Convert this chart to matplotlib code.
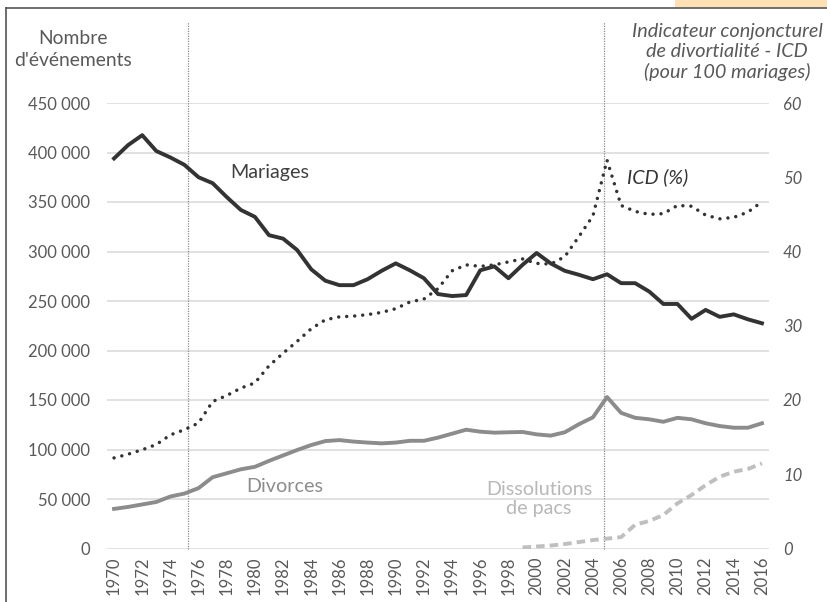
import matplotlib
matplotlib.use("Agg")
import matplotlib.pyplot as plt
from matplotlib.lines import Line2D
from matplotlib.patches import Rectangle
from matplotlib.ticker import FuncFormatter, MultipleLocator

plt.rcParams['font.family'] = ['Lato', 'DejaVu Sans']

# Data
years = list(range(1970, 2017))

mariages = [394000, 407500, 417500, 401500, 395000, 387500, 375000, 369000, 355000, 342000,
            335000, 316500, 313000, 301500, 282000, 270500, 266000, 266000, 272000, 280500,
            288000, 281000, 273000, 257000, 255000, 256000, 281000, 285000, 273000, 286500,
            298500, 288000, 280500, 276500, 272000, 277000, 268000, 268000, 259500, 247000,
            247000, 232000, 241000, 234000, 236500, 231500, 227500]

divorces = [40000, 42000, 44500, 47000, 52500, 55500, 61000, 72000, 76000, 80000,
            82500, 88500, 94000, 99500, 104500, 108500, 109500, 108000, 107000, 106200,
            107000, 108800, 108800, 112000, 116000, 120000, 118000, 117000, 117400, 117700,
            115300, 114000, 117400, 125500, 132500, 153000, 137000, 132000, 130500, 128000,
            132000, 130500, 126500, 123700, 122000, 122000, 126500]

icd = [12.2, 12.7, 13.3, 14.0, 15.3, 16.0, 16.9, 19.8, 20.6, 21.6,
       22.3, 24.6, 26.3, 27.9, 29.6, 30.8, 31.2, 31.3, 31.5, 31.8,
       32.3, 33.2, 33.6, 35.0, 37.4, 38.2, 38.0, 38.2, 38.6, 39.0,
       38.4, 38.3, 39.3, 42.0, 44.8, 52.3, 46.2, 45.4, 45.0, 45.1,
       46.2, 46.1, 44.9, 44.4, 44.6, 45.3, 46.7]

pacs_years = list(range(1999, 2017))
pacs = [1000, 2000, 3000, 4500, 6500, 8500, 10000, 11500, 24000, 27800,
        33800, 45600, 54000, 64000, 72500, 77600, 80300, 86000]

reform_years = [1975.25, 2004.8]

W, H = 827, 602
fig = plt.figure(figsize=(W / 100, H / 100), dpi=100)
ax = fig.add_axes([107 / W, 1 - 548.5 / H, 662 / W, 445.5 / H])
ax2 = ax.twinx()

# axes styling
ax.set_xlim(1969.5, 2016.5)
ax.set_ylim(0, 450000)
ax2.set_ylim(0, 60)
ax.yaxis.set_major_locator(MultipleLocator(50000))
ax2.yaxis.set_major_locator(MultipleLocator(10))
ax.yaxis.set_major_formatter(FuncFormatter(lambda v, p: f"{int(v):,}".replace(",", " ")))
ax.set_xticks(years[::2])
ax.set_xticklabels([str(y) for y in years[::2]], rotation=90)

for a in (ax, ax2):
    for s in a.spines.values():
        s.set_visible(False)
ax.grid(axis='y', color='#d9d9d9', lw=1.1)
ax.set_axisbelow(True)
ax.tick_params(axis='y', length=0, pad=12, labelsize=12, labelcolor='#595959')
ax.tick_params(axis='x', length=0, pad=6, labelsize=12, labelcolor='#595959')
ax2.tick_params(axis='y', length=0, pad=10, labelsize=12, labelcolor='#595959')
for lab in ax2.get_yticklabels():
    lab.set_fontstyle('italic')

# vertical reform lines
for x in reform_years:
    ax.axvline(x, ymin=0, ymax=(548.5 - 22) / 445.5, color='#8c8c8c', lw=0.9,
               ls=(0, (1, 1)), clip_on=False, zorder=1)

# series
ax.plot(years, mariages, color='#333333', lw=2.8, solid_joinstyle='round', zorder=4)
ax.plot(years, divorces, color='#8c8c8c', lw=2.8, solid_joinstyle='round', zorder=3)
ax.plot(pacs_years, pacs, color='#bfbfbf', lw=2.8, dashes=(2.2, 1.3), zorder=3)
ax2.plot(years, icd, color='#333333', lw=2.5, dashes=(0.01, 2.3),
         dash_capstyle='round', zorder=4)

# labels inside the plot
def fx(px):
    return px / W

def fy(py):
    return 1 - py / H

fig.text(fx(270), fy(173), "Mariages", fontsize=14.2, color='#404040', ha='center', va='center')
fig.text(fx(658), fy(177), "ICD (%)", fontsize=14.2, color='#333333', style='italic',
         ha='center', va='center')
fig.text(fx(285), fy(487), "Divorces", fontsize=14.2, color='#8c8c8c', ha='center', va='center')
fig.text(fx(539), fy(499), "Dissolutions\nde pacs", fontsize=14.2, color='#b8b8b8',
         ha='center', va='center', linespacing=1.2)

# axis titles
fig.text(fx(73), fy(49.5), "Nombre\nd'événements", fontsize=13.9, color='#595959',
         ha='center', va='center', linespacing=1.3)
fig.text(fx(727), fy(52), "Indicateur conjoncturel\nde divortialité - ICD\n(pour 100 mariages)",
         fontsize=14.3, color='#595959', style='italic', ha='center', va='center',
         linespacing=1.2)

# frame bits at the edges of the picture
fig.add_artist(Rectangle((fx(675), fy(7)), 1 - fx(675), 7 / H, transform=fig.transFigure,
                         color='#fde0b4', lw=0))
fig.add_artist(Line2D([fx(6), 1], [fy(7.5), fy(7.5)], color='#555555', lw=1.2))
fig.add_artist(Line2D([fx(6), fx(6)], [fy(7.5), 0], color='#555555', lw=1.2))

fig.savefig("out.png", dpi=100)
